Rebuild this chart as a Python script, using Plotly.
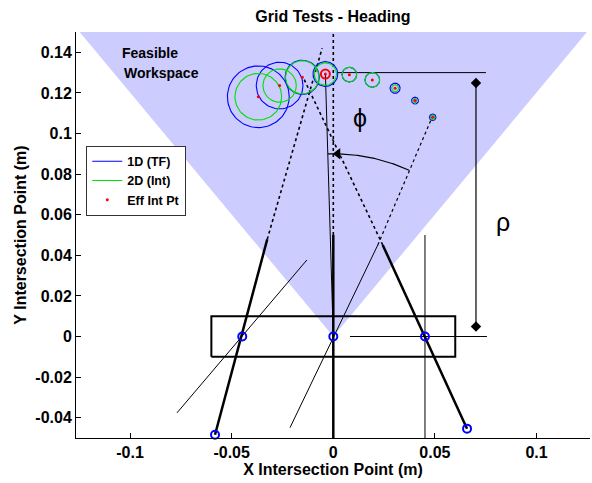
import numpy as np
import plotly.graph_objects as go

# ---------------- data ----------------
# feasible workspace (triangle)
ws_x = [0.0, -0.1248, 0.1248, 0.0]
ws_y = [0.0, 0.15, 0.15, 0.0]

# sensor board outline
box_x = [-0.06, 0.06, 0.06, -0.06, -0.06]
box_y = [-0.01, -0.01, 0.01, 0.01, -0.01]

# sensors on the board and their base points
row_x = [-0.0448, 0.0, 0.0451]
row_y = [0.0, 0.0, 0.0]
base_x = [-0.0582, 0.0, 0.0658]
base_y = [-0.0484, -0.0503, -0.0454]

# bearing lines: solid part (base -> top) then dotted extension (top -> end)
bear_top_x = [-0.0325, 0.0, 0.0243]
bear_top_y = [0.0479, 0.050, 0.0451]
bear_end_x = [-0.0055, 0.0, -0.0150]
bear_end_y = [0.1420, 0.150, 0.1280]

# thin reference lines (x0, y0, x1, y1)
thin_x0 = [-0.0769, -0.0213, 0.0451, 0.0082, 0.0018, 0.0]
thin_y0 = [-0.0376, -0.0449, -0.0500, 0.0, 0.1300, 0.0]
thin_x1 = [-0.0130, 0.0219, 0.0451, 0.0756, 0.0751, -0.0039]
thin_y1 = [0.0377, 0.0451, 0.0500, 0.0, 0.1300, 0.1293]

# heading line dotted extension
head_x0 = [0.0219]
head_y0 = [0.0451]
head_x1 = [0.0487]
head_y1 = [0.1082]

# rho dimension
rho_x = [0.0702, 0.0702]
rho_y = [0.1249, 0.0049]

# phi arc
arc_r = 0.09
arc_deg = [65.5, 91.7]
arrow_x = [0.0022]
arrow_y = [0.0900]

# intersection estimates
cx = [-0.0369, -0.0264, -0.0153, -0.0039, 0.0079, 0.0192, 0.0304, 0.0402, 0.0489]
cy = [0.1181, 0.1236, 0.1277, 0.1293, 0.1290, 0.1264, 0.1223, 0.1162, 0.1080]
r_1d = [0.0152, 0.0115, 0.0084, 0.0061, 0.0036, 0.0036, 0.0025, 0.0017, 0.0016]
r_2d = [0.0115, 0.0082, 0.0082, 0.0055, 0.0036, 0.0036, 0.0017, 0.0010, 0.0011]
eff_x = [-0.0039]
eff_y = [0.1293]

legend_names = ["1D (TF)", "2D (Int)", "Eff Int Pt"]

x_ticks = [-0.1, -0.05, 0, 0.05, 0.1]
x_ticktext = ["-0.1", "-0.05", "0", "0.05", "0.1"]
y_ticks = [-0.04, -0.02, 0, 0.02, 0.04, 0.06, 0.08, 0.1, 0.12, 0.14]
y_ticktext = ["-0.04", "-0.02", "0", "0.02", "0.04", "0.06", "0.08", "0.1", "0.12", "0.14"]

# ---------------- helpers ----------------
def segs(x0, y0, x1, y1):
    xs, ys = [], []
    for a, b, c, d in zip(x0, y0, x1, y1):
        xs += [a, c, None]
        ys += [b, d, None]
    return xs, ys

_t = np.linspace(0, 2 * np.pi, 90)

def rings(xc, yc, rr):
    xs, ys = [], []
    for a, b, r in zip(xc, yc, rr):
        xs += list(a + r * np.cos(_t)) + [None]
        ys += list(b + r * np.sin(_t)) + [None]
    return xs, ys

FONT = "Liberation Sans, Arial, sans-serif"

fig = go.Figure()

# workspace
fig.add_trace(go.Scatter(x=ws_x, y=ws_y, fill="toself", fillcolor="#ccccff",
                         line=dict(width=0), mode="lines", showlegend=False, hoverinfo="skip"))
# box
fig.add_trace(go.Scatter(x=box_x, y=box_y, mode="lines", line=dict(color="black", width=2),
                         showlegend=False))
# thin lines
sx, sy = segs(thin_x0, thin_y0, thin_x1, thin_y1)
fig.add_trace(go.Scatter(x=sx, y=sy, mode="lines", line=dict(color="black", width=1),
                         showlegend=False))
# heading dotted
sx, sy = segs(head_x0, head_y0, head_x1, head_y1)
fig.add_trace(go.Scatter(x=sx, y=sy, mode="lines", line=dict(color="black", width=1.2, dash="dot"),
                         showlegend=False))
# bearing dotted
sx, sy = segs(bear_top_x, bear_top_y, bear_end_x, bear_end_y)
fig.add_trace(go.Scatter(x=sx, y=sy, mode="lines", line=dict(color="black", width=1.6, dash="dot"),
                         showlegend=False))
# bearing solid
sx, sy = segs(base_x, base_y, bear_top_x, bear_top_y)
fig.add_trace(go.Scatter(x=sx, y=sy, mode="lines", line=dict(color="black", width=2.5),
                         showlegend=False))

# circles
bx, by = rings(cx, cy, r_1d)
fig.add_trace(go.Scatter(x=bx, y=by, mode="lines", line=dict(color="#0000ff", width=1.1),
                         name=legend_names[0]))
gx, gy = rings(cx, cy, r_2d)
fig.add_trace(go.Scatter(x=gx, y=gy, mode="lines", line=dict(color="#00e000", width=1.1),
                         name=legend_names[1]))
fig.add_trace(go.Scatter(x=cx, y=cy, mode="markers", marker=dict(color="#ff0000", size=3),
                         name=legend_names[2]))
fig.add_trace(go.Scatter(x=eff_x, y=eff_y, mode="markers",
                         marker=dict(symbol="circle-open", color="#ff0000", size=9, line=dict(width=2)),
                         showlegend=False))

# phi arc
ang = np.radians(np.linspace(arc_deg[0], arc_deg[1], 60))
fig.add_trace(go.Scatter(x=arc_r * np.cos(ang), y=arc_r * np.sin(ang), mode="lines",
                         line=dict(color="black", width=1.2), showlegend=False))
fig.add_trace(go.Scatter(x=arrow_x, y=arrow_y, mode="markers",
                         marker=dict(symbol="triangle-left", color="black", size=10),
                         showlegend=False))

# rho dimension
fig.add_trace(go.Scatter(x=rho_x, y=rho_y, mode="lines+markers",
                         line=dict(color="black", width=1.2),
                         marker=dict(symbol="diamond", color="black", size=8),
                         showlegend=False))

# sensors
fig.add_trace(go.Scatter(x=row_x + base_x, y=row_y + base_y, mode="markers", cliponaxis=False,
                         marker=dict(symbol="circle-open", color="#0000ff", size=8, line=dict(width=2)),
                         showlegend=False))

fig.update_layout(
    width=592, height=483,
    margin=dict(l=76, r=2, t=32, b=45),
    paper_bgcolor="white", plot_bgcolor="white",
    font=dict(family=FONT, color="black"),
    title=dict(text="<b>Grid Tests - Heading</b>", x=0.5, xref="paper", xanchor="center",
               y=1 - 16 / 483, yref="container", yanchor="middle",
               font=dict(size=16, family=FONT, color="black")),
    legend=dict(x=0.02, y=0.72, xanchor="left", yanchor="top", bgcolor="white",
                bordercolor="#333333", borderwidth=1, itemwidth=30,
                font=dict(size=12.5, family=FONT, color="black", weight="bold"),
                tracegroupgap=0),
    showlegend=True,
)
fig.update_xaxes(range=[-0.1266, 0.1263], tickvals=x_ticks, ticktext=x_ticktext,
                 showgrid=False, zeroline=False, showline=True, linecolor="black", linewidth=1,
                 ticks="inside", ticklen=5, tickcolor="black", mirror=False,
                 tickfont=dict(size=16, family=FONT, color="black", weight="bold"),
                 title=dict(text="<b>X Intersection Point (m)</b>", standoff=2,
                            font=dict(size=16, family=FONT, color="black")))
fig.update_yaxes(range=[-0.05, 0.15], tickvals=y_ticks, ticktext=y_ticktext,
                 showgrid=False, zeroline=False, showline=True, linecolor="black", linewidth=1,
                 ticks="inside", ticklen=5, tickcolor="black", mirror=False,
                 tickfont=dict(size=16, family=FONT, color="black", weight="bold"),
                 title=dict(text="<b>Y Intersection Point (m)</b>", standoff=4,
                            font=dict(size=16, family=FONT, color="black")))

annots = [
    dict(x=-0.1049, y=0.1395, text="<b>Feasible</b>", xanchor="left", size=14),
    dict(x=-0.1039, y=0.1297, text="<b>Workspace</b>", xanchor="left", size=14),
    dict(x=0.0131, y=0.1076, text="ϕ", xanchor="center", size=25),
    dict(x=0.0836, y=0.0566, text="ρ", xanchor="center", size=25),
]
for a in annots:
    fig.add_annotation(x=a["x"], y=a["y"], xref="x", yref="y", text=a["text"], showarrow=False,
                       xanchor=a["xanchor"], yanchor="middle",
                       font=dict(size=a["size"], family=FONT, color="black"))

fig.write_html("out.html")
